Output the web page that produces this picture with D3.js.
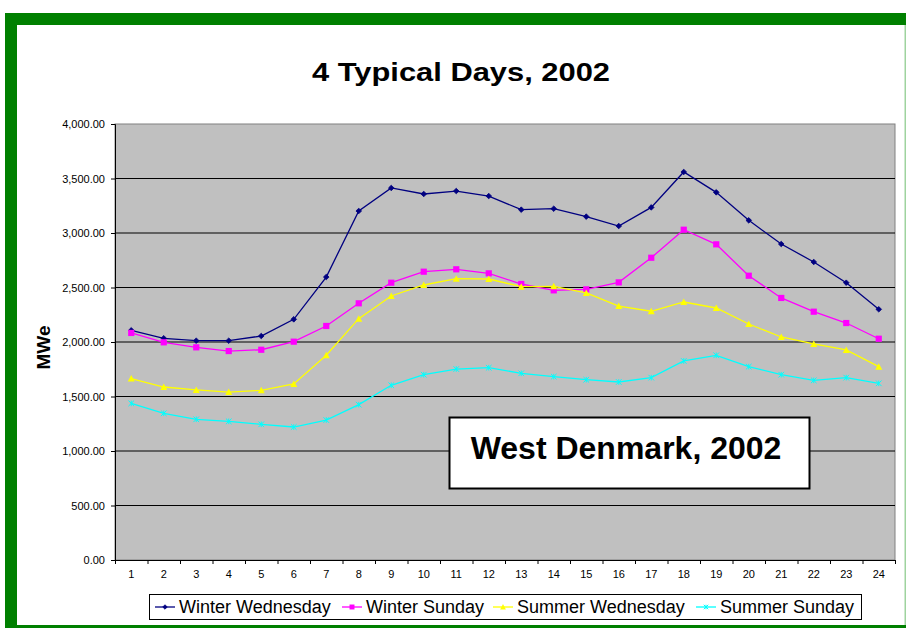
<!DOCTYPE html>
<html>
<head>
<meta charset="utf-8">
<script src="https://cdn.jsdelivr.net/npm/d3@7"></script>
<style>
  html, body { margin: 0; padding: 0; background: #fff; }
  svg { display: block; font-family: "Liberation Sans", Arial, sans-serif; }
</style>
</head>
<body>
<svg id="chart" width="906" height="628"></svg>
<script>
// ---- data ----
const hours = ["1","2","3","4","5","6","7","8","9","10","11","12","13","14","15","16","17","18","19","20","21","22","23","24"];
const seriesNames = ["Winter Wednesday", "Winter Sunday", "Summer Wednesday", "Summer Sunday"];
const winterWednesday = [2107, 2034, 2012, 2012, 2055, 2208, 2596, 3202, 3413, 3358, 3385, 3339, 3214, 3223, 3150, 3064, 3235, 3560, 3373, 3116, 2899, 2734, 2544, 2300];
const winterSunday    = [2083, 1997, 1951, 1917, 1929, 2003, 2147, 2355, 2544, 2645, 2667, 2630, 2532, 2474, 2483, 2547, 2773, 3030, 2896, 2608, 2404, 2278, 2174, 2030];
const summerWednesday = [1664, 1587, 1560, 1541, 1557, 1615, 1878, 2214, 2422, 2523, 2581, 2578, 2508, 2511, 2450, 2330, 2282, 2367, 2312, 2165, 2046, 1982, 1927, 1774];
const summerSunday    = [1437, 1346, 1291, 1272, 1245, 1220, 1284, 1425, 1603, 1700, 1752, 1764, 1713, 1682, 1654, 1633, 1673, 1826, 1878, 1774, 1700, 1648, 1673, 1621];
const yTicks = [0, 500, 1000, 1500, 2000, 2500, 3000, 3500, 4000];
const titleText = "4 Typical Days, 2002";
const yAxisTitle = "MWe";
const annotationText = "West Denmark, 2002";

// ---- styles ----
const colors = ["#000080", "#FF00FF", "#FFFF00", "#00FFFF"];
const markers = ["diamond", "square", "triangle", "x"];
const allSeries = [winterWednesday, winterSunday, summerWednesday, summerSunday];

const svg = d3.select("#chart");
svg.append("rect").attr("width", 906).attr("height", 628).attr("fill", "#fff");

// green frame
svg.append("rect").attr("x", 5).attr("y", 13).attr("width", 901).attr("height", 12).attr("fill", "#008000");
svg.append("rect").attr("x", 5).attr("y", 13).attr("width", 12).attr("height", 615).attr("fill", "#008000");
svg.append("rect").attr("x", 5).attr("y", 625).attr("width", 901).attr("height", 3).attr("fill", "#008000");
svg.append("rect").attr("x", 904.5).attr("y", 25).attr("width", 1.5).attr("height", 600).attr("fill", "#9fd39f");

const L = 115, R = 895, T = 124, B = 560;

const x = d3.scaleBand().domain(hours).range([L, R]).padding(0);
const xEdge = d3.scaleLinear().domain([0, hours.length]).range([L, R]);
const y = d3.scaleLinear().domain([0, 4000]).range([B, T]);

// plot area
svg.append("rect").attr("x", L).attr("y", T).attr("width", R - L).attr("height", B - T)
  .attr("fill", "#C0C0C0").attr("stroke", "#808080").attr("stroke-width", 1);

// gridlines
svg.append("g").selectAll("line").data(yTicks.filter(v => v > 0 && v < 4000)).join("line")
  .attr("x1", L).attr("x2", R).attr("y1", d => y(d)).attr("y2", d => y(d))
  .attr("stroke", "#000").attr("stroke-width", 1);

// y axis
const yAxis = svg.append("g").attr("transform", `translate(${L},0)`)
  .call(d3.axisLeft(y).tickValues(yTicks).tickFormat(d3.format(",.2f")).tickSize(4).tickPadding(6));
yAxis.select(".domain").attr("stroke", "#000");
yAxis.selectAll(".tick line").attr("stroke", "#000");
yAxis.selectAll("text").attr("font-size", 11).attr("fill", "#000")
  .attr("font-family", "'Liberation Sans', Arial, sans-serif");

// x axis: ticks at boundaries
const xTicksG = svg.append("g").attr("transform", `translate(0,${B})`)
  .call(d3.axisBottom(xEdge).tickValues(d3.range(hours.length + 1)).tickFormat("").tickSize(4));
xTicksG.select(".domain").attr("stroke", "#000");
xTicksG.selectAll(".tick line").attr("stroke", "#000");
const xLab = svg.append("g").attr("transform", `translate(0,${B})`)
  .call(d3.axisBottom(x).tickSize(0).tickPadding(10));
xLab.select(".domain").remove();
xLab.selectAll("text").attr("font-size", 11).attr("fill", "#000")
  .attr("font-family", "'Liberation Sans', Arial, sans-serif");

// marker drawing
function drawMarker(g, type, color, size) {
  const s = size;
  if (type === "diamond") {
    g.append("path").attr("d", `M0,${-s}L${s},0L0,${s}L${-s},0Z`).attr("fill", color).attr("stroke", color).attr("stroke-width", 0.8);
  } else if (type === "square") {
    g.append("rect").attr("x", -s).attr("y", -s).attr("width", 2 * s).attr("height", 2 * s).attr("fill", color);
  } else if (type === "triangle") {
    g.append("path").attr("d", `M0,${-s - 0.5}L${s + 0.5},${s}L${-s - 0.5},${s}Z`).attr("fill", color);
  } else {
    g.append("path").attr("d", `M${-s},${-s}L${s},${s}M${-s},${s}L${s},${-s}M0,${-s}L0,${s}`)
      .attr("stroke", color).attr("stroke-width", 1).attr("fill", "none");
  }
}
const markerSize = [2.8, 3.1, 3, 2.8];

// series
const line = d3.line().x((d, i) => x(hours[i]) + x.bandwidth() / 2).y(d => y(d));
allSeries.forEach((vals, si) => {
  const g = svg.append("g");
  g.append("path").datum(vals).attr("d", line).attr("fill", "none")
    .attr("stroke", colors[si]).attr("stroke-width", 1.3);
  vals.forEach((v, i) => {
    const mg = g.append("g").attr("transform", `translate(${x(hours[i]) + x.bandwidth() / 2},${y(v)})`);
    drawMarker(mg, markers[si], colors[si], markerSize[si]);
  });
});

// title
svg.append("text").attr("x", 461).attr("y", 80.7).attr("text-anchor", "middle")
  .attr("font-size", 26.5).attr("font-weight", "bold").attr("fill", "#000")
  .attr("textLength", 298).attr("lengthAdjust", "spacingAndGlyphs").text(titleText);

// y axis title
svg.append("text").attr("transform", "translate(50,347.5) rotate(-90)").attr("text-anchor", "middle")
  .attr("font-size", 19).attr("font-weight", "bold").attr("fill", "#000").text(yAxisTitle);

// annotation box
svg.append("rect").attr("x", 449.5).attr("y", 417.5).attr("width", 360).attr("height", 71)
  .attr("fill", "#fff").attr("stroke", "#000").attr("stroke-width", 2);
svg.append("text").attr("x", 626).attr("y", 458.5).attr("text-anchor", "middle")
  .attr("font-size", 32).attr("font-weight", "bold").attr("fill", "#000").text(annotationText);

// legend
svg.append("rect").attr("x", 149.5).attr("y", 594.5).attr("width", 712).attr("height", 25)
  .attr("fill", "#fff").attr("stroke", "#000").attr("stroke-width", 1);
const legendX = [155, 342, 493, 696];
seriesNames.forEach((name, si) => {
  const g = svg.append("g").attr("transform", `translate(${legendX[si]},607)`);
  g.append("line").attr("x1", 0).attr("x2", 20).attr("y1", 0).attr("y2", 0)
    .attr("stroke", colors[si]).attr("stroke-width", 1.3);
  const mg = g.append("g").attr("transform", "translate(10,0)");
  drawMarker(mg, markers[si], colors[si], markerSize[si] * 0.8);
  g.append("text").attr("x", 24).attr("y", 6).attr("font-size", 18).attr("fill", "#000").text(name);
});
</script>
</body>
</html>
